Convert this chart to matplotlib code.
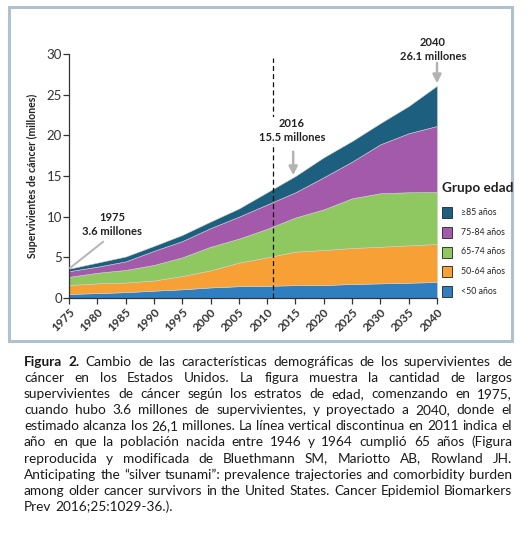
import matplotlib
matplotlib.use("Agg")
import matplotlib.pyplot as plt
from matplotlib.patches import Rectangle

plt.rcParams['font.family'] = ['Lato', 'DejaVu Sans']

# ---------------- data ----------------
years = [1975, 1980, 1985, 1990, 1995, 2000, 2005, 2010, 2015, 2020, 2025, 2030, 2035, 2040]
under50 = [0.5, 0.6, 0.72, 0.9, 1.07, 1.3, 1.45, 1.5, 1.58, 1.6, 1.72, 1.8, 1.88, 1.97]
age50_64 = [1.1, 1.2, 1.18, 1.25, 1.63, 2.1, 2.9, 3.5, 4.12, 4.3, 4.43, 4.5, 4.6, 4.67]
age65_74 = [1.0, 1.3, 1.55, 1.91, 2.3, 2.9, 2.95, 3.5, 4.2, 5.0, 6.11, 6.58, 6.52, 6.4]
age75_84 = [0.7, 0.75, 1.05, 1.74, 2.0, 2.3, 2.7, 3.0, 3.1, 3.95, 4.51, 6.02, 7.26, 8.11]
age85p = [0.3, 0.5, 0.6, 0.6, 0.75, 0.8, 1.0, 1.5, 2.0, 2.45, 2.53, 2.6, 3.34, 4.95]
group_labels = ['<50 años', '50-64 años', '65-74 años', '75-84 años', '≥85 años']
group_colors = ['#2f7fc0', '#f7a035', '#8fc760', '#a35aab', '#1c5f7e']
xticks = list(range(1975, 2041, 5))
yticks = [0, 5, 10, 15, 20, 25, 30]
boomer_year = 2011
annotations = [("1975\n3.6 millones", 1982.6, 9.0, (1981.0, 6.9), (1975.2, 3.7), False),
               ("2016\n15.5 millones", 2014.4, 20.6, (2014.6, 18.0), (2014.6, 15.1), True),
               ("2040\n26.1 millones", 2039.3, 30.6, (2040, 28.9), (2040, 26.4), True)]
caption_lines = [
    "Figura 2. Cambio de las características demográficas de los supervivientes de",
    "cáncer en los Estados Unidos. La figura muestra la cantidad de largos",
    "supervivientes de cáncer según los estratos de edad, comenzando en 1975,",
    "cuando hubo 3.6 millones de supervivientes, y proyectado a 2040, donde el",
    "estimado alcanza los 26,1 millones. La línea vertical discontinua en 2011 indica el",
    "año en que la población nacida entre 1946 y 1964 cumplió 65 años (Figura",
    "reproducida y modificada de Bluethmann SM, Mariotto AB, Rowland JH.",
    "Anticipating the “silver tsunami”: prevalence trajectories and comorbidity burden",
    "among older cancer survivors in the United States. Cancer Epidemiol Biomarkers",
    "Prev 2016;25:1029-36.).",
]

W, H = 530, 538
fig = plt.figure(figsize=(W / 100, H / 100), dpi=100)
fig.patch.set_facecolor('white')

# frame around chart
fig.patches.append(Rectangle((9 / W, 1 - 341 / H), 503 / W, 334 / H, transform=fig.transFigure,
                             fill=False, edgecolor='#afc1cf', linewidth=2.2, zorder=0))

ax = fig.add_axes([69 / W, 1 - 298 / H, (437 - 69) / W, 244 / H])
ax.stackplot(years, under50, age50_64, age65_74, age75_84, age85p, colors=group_colors,
             edgecolor='#cfcfcf', linewidth=0.4)
ax.set_xlim(1975, 2040)
ax.set_ylim(0, 30)
for s in ['top', 'right']:
    ax.spines[s].set_visible(False)
for s in ['left', 'bottom']:
    ax.spines[s].set_color('#333333')
    ax.spines[s].set_linewidth(0.9)
ax.set_xticks(xticks)
ax.set_xticklabels([str(y) for y in xticks], rotation=45, ha='right', rotation_mode='anchor',
                   fontsize=8.5, fontweight='bold', color='#333333')
ax.set_yticks(yticks)
ax.set_yticklabels([str(v) for v in yticks], fontsize=9.5, color='#333333')
ax.tick_params(axis='both', direction='out', length=4, width=0.9, color='#333333')
ax.tick_params(axis='x', pad=2)
ax.tick_params(axis='y', pad=1)

ax.plot([boomer_year, boomer_year], [0, 29.5], color='#111111', linestyle=(0, (4, 2.5)),
        linewidth=0.9, clip_on=False, zorder=5)

for text, tx, ty, start, end, head in annotations:
    ax.text(tx, ty, text, ha='center', va='center', fontsize=8, fontweight='bold',
            color='#222222', linespacing=1.35, clip_on=False, zorder=8,
            bbox=dict(facecolor='white', edgecolor='none', pad=0.5))
    if head:
        ax.annotate('', xy=end, xytext=start, xycoords='data',
                    arrowprops=dict(arrowstyle='-|>,head_length=0.5,head_width=0.25',
                                    color='#b3b3b3', lw=1.8, shrinkA=0, shrinkB=0),
                    annotation_clip=False)
    else:
        ax.plot([start[0], end[0]], [start[1], end[1]], color='#b8b8b8', lw=1.5,
                clip_on=False, zorder=6)

fig.text(32 / W, 1 - 176 / H, 'Supervivientes de cáncer (millones)', rotation=90,
         ha='center', va='center', fontsize=7.6, fontweight='bold', color='#222222')

# legend (manual)
fig.text(478 / W, 1 - 188 / H, 'Grupo edad', ha='center', va='center', fontsize=9.8,
         fontweight='bold', color='#222222')
leg_y = [291, 271.5, 252, 232.8, 212.7]
for lab, col, yy in zip(group_labels, group_colors, leg_y):
    fig.patches.append(Rectangle((441.5 / W, 1 - (yy + 5.5) / H), 10.5 / W, 11 / H,
                                 transform=fig.transFigure, facecolor=col,
                                 edgecolor='#222222', linewidth=0.6))
    fig.text(461 / W, 1 - yy / H, lab, ha='left', va='center', fontsize=6.3,
             color='#222222')

# caption (justified)
renderer = fig.canvas.get_renderer()


def measure(s, fs, bold):
    t = fig.text(0, 0, s, fontsize=fs, fontweight='bold' if bold else 'normal')
    w = t.get_window_extent(renderer).width
    t.remove()
    return w


def words_of(i, line):
    ws = line.split(' ')
    out = []
    for j, w in enumerate(ws):
        out.append((w, i == 0 and j < 2))
    return out


fs0 = 10.0
space0 = measure('a a', fs0, False) - measure('aa', fs0, False)
maxw = 0
for i, line in enumerate(caption_lines[:-1]):
    ws = words_of(i, line)
    nat = sum(measure(w, fs0, b) for w, b in ws) + space0 * (len(ws) - 1)
    maxw = max(maxw, nat)
left, right = 24, 512
fs = fs0 * (right - left - 3) / maxw
space = measure('a a', fs, False) - measure('aa', fs, False)

for i, line in enumerate(caption_lines):
    ws = words_of(i, line)
    widths = [measure(w, fs, b) for w, b in ws]
    if i < len(caption_lines) - 1 and len(ws) > 1:
        gap = (right - left - sum(widths)) / (len(ws) - 1)
    else:
        gap = space
    x = left
    yb = 366 + 16.1 * i
    for (w, b), wd in zip(ws, widths):
        fig.text(x / W, 1 - yb / H, w, fontsize=fs, fontweight='bold' if b else 'normal',
                 ha='left', va='baseline', color='#1a1a1a')
        x += wd + gap

fig.savefig('out.png', dpi=100, facecolor='white')
